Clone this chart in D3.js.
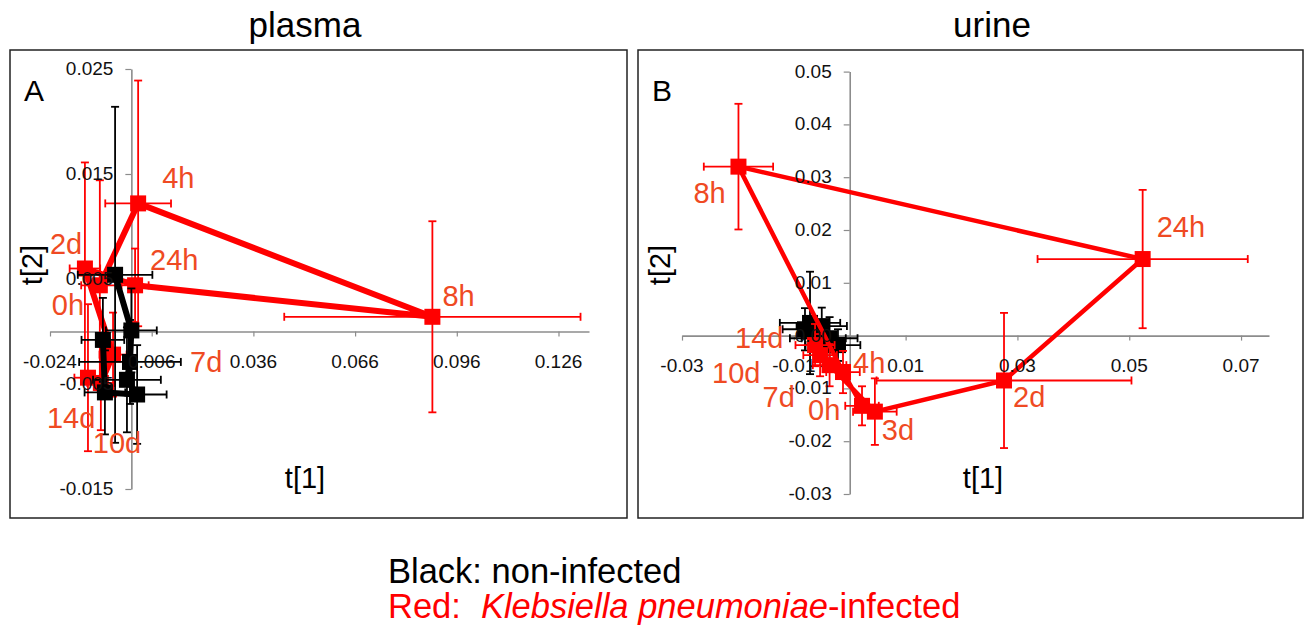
<!DOCTYPE html>
<html>
<head>
<meta charset="utf-8">
<style>
  body { margin: 0; background: #fff; }
  svg text { font-family: "Liberation Sans", Arial, sans-serif; }
</style>
</head>
<body>
<script src="https://d3js.org/d3.v7.min.js"></script>
<svg id="fig" width="1313" height="630"></svg>
<script>
// score means (t[1], t[2]) with SD, in trajectory order
const plasmaInfected = [
  {t: '0h',  x: -0.0093, y:  0.0044, ex: 0.0055, ey: 0.0100},
  {t: '4h',  x:  0.0020, y:  0.0122, ex: 0.0097, ey: 0.0117},
  {t: '8h',  x:  0.0888, y:  0.0014, ex: 0.0437, ey: 0.0091},
  {t: '24h', x:  0.0011, y:  0.0044, ex: 0.0040, ey: 0.0035},
  {t: '2d',  x: -0.0137, y:  0.0060, ex: 0.0045, ey: 0.0101},
  {t: '7d',  x: -0.0054, y: -0.0022, ex: 0.0040, ey: 0.0040},
  {t: '10d', x: -0.0090, y: -0.0049, ex: 0.0040, ey: 0.0045},
  {t: '14d', x: -0.0128, y: -0.0044, ex: 0.0040, ey: 0.0070},
];
const plasmaControl = [
  {x: -0.0048, y:  0.0054, ex: 0.0110, ey: 0.0160},
  {x:  0.0000, y:  0.0001, ex: 0.0075, ey: 0.0040},
  {x: -0.0004, y: -0.0029, ex: 0.0150, ey: 0.0040},
  {x: -0.0013, y: -0.0046, ex: 0.0100, ey: 0.0050},
  {x:  0.0017, y: -0.0060, ex: 0.0087, ey: 0.0047},
  {x: -0.0078, y: -0.0058, ex: 0.0060, ey: 0.0040},
  {x: -0.0084, y: -0.0008, ex: 0.0063, ey: 0.0040},
];
const urineInfected = [
  {t: '0h',  x:  0.0022, y: -0.0133, ex: 0.0030, ey: 0.0037},
  {t: '4h',  x: -0.0012, y: -0.0069, ex: 0.0030, ey: 0.0040},
  {t: '8h',  x: -0.0199, y:  0.0320, ex: 0.0062, ey: 0.0119},
  {t: '24h', x:  0.0524, y:  0.0145, ex: 0.0188, ey: 0.0131},
  {t: '2d',  x:  0.0276, y: -0.0085, ex: 0.0228, ey: 0.0128},
  {t: '3d',  x:  0.0045, y: -0.0144, ex: 0.0039, ey: 0.0063},
  {t: '7d',  x: -0.0036, y: -0.0056, ex: 0.0030, ey: 0.0040},
  {t: '10d', x: -0.0053, y: -0.0037, ex: 0.0030, ey: 0.0040},
  {t: '14d', x: -0.0062, y: -0.0018, ex: 0.0035, ey: 0.0040},
];
const urineControl = [
  {x: -0.0071, y:  0.0024, ex: 0.0054, ey: 0.0097},
  {x: -0.0080, y:  0.0012, ex: 0.0040, ey: 0.0040},
  {x: -0.0050, y:  0.0018, ex: 0.0045, ey: 0.0035},
  {x: -0.0036, y: -0.0005, ex: 0.0050, ey: 0.0040},
  {x: -0.0021, y: -0.0018, ex: 0.0040, ey: 0.0030},
  {x: -0.0057, y: -0.0005, ex: 0.0050, ey: 0.0030},
  {x: -0.0044, y: -0.0018, ex: 0.0035, ey: 0.0040},
];

const plasmaXTicks = [-0.024, 0.006, 0.036, 0.066, 0.096, 0.126];
const plasmaYTicks = [-0.015, -0.005, 0.005, 0.015, 0.025];
const urineXTicks = [-0.03, -0.01, 0.01, 0.03, 0.05, 0.07];
const urineYTicks = [-0.03, -0.02, -0.01, 0, 0.01, 0.02, 0.03, 0.04, 0.05];

const RED = '#ff0000';
const LABEL_RED = '#ef4a23';
const AXIS_GREY = '#8c8c8c';

const svg = d3.select('#fig');

// where each time label sits relative to its marker (px)
const plasmaLabelOff = {
  '0h': [-48, 30], '4h': [24, -15], '8h': [10, -11], '24h': [15, -15],
  '2d': [-35, -15], '7d': [77, 17], '10d': [-8, 70], '14d': [-41, 50]
};
const urineLabelOff = {
  '0h': [-54, 14], '4h': [10, 1], '8h': [-45, 36], '24h': [14, -22],
  '2d': [9, 27], '3d': [7, 28], '7d': [-67, 42], '10d': [-108, 28], '14d': [-80, 3]
};

function drawPanel(cfg) {
  const g = svg.append('g');

  g.append('rect')
   .attr('x', cfg.box[0]).attr('y', cfg.box[1])
   .attr('width', cfg.box[2]).attr('height', cfg.box[3])
   .attr('fill', 'none').attr('stroke', '#222').attr('stroke-width', 1.5);

  g.append('text').text(cfg.title)
   .attr('x', cfg.titleX).attr('y', 37)
   .attr('text-anchor', 'middle').attr('font-size', '35px');

  g.append('text').text(cfg.letter)
   .attr('x', cfg.box[0] + 14).attr('y', 101)
   .attr('font-size', '30px');

  const x = d3.scaleLinear().domain(cfg.xDomain).range(cfg.xRange);
  const y = d3.scaleLinear().domain(cfg.yDomain).range(cfg.yRange);

  const xAxis = d3.axisBottom(x).tickValues(cfg.xTicks)
                  .tickSize(5).tickSizeOuter(0).tickPadding(18)
                  .tickFormat(d => d.toFixed(cfg.dec));
  const yAxis = d3.axisLeft(y).tickValues(cfg.yTicks)
                  .tickSize(6).tickSizeOuter(0).tickPadding(12)
                  .tickFormat(d => d.toFixed(cfg.dec));

  const axes = g.append('g');
  const gx = axes.append('g').attr('transform', `translate(0, ${y(0)})`).call(xAxis);
  const gy = axes.append('g').attr('transform', `translate(${x(0)}, 0)`).call(yAxis);
  [gx, gy].forEach(a => {
    a.select('.domain').attr('stroke', AXIS_GREY).attr('stroke-width', 1.6);
    a.selectAll('.tick line').attr('stroke', AXIS_GREY).attr('stroke-width', 1.2);
    a.selectAll('.tick text').attr('font-size', '19px').attr('fill', '#111')
     .attr('font-family', '"Liberation Sans", Arial, sans-serif');
  });
  // tick labels go on top of the markers, like the original
  const tickLabels = [gx, gy].map(a => a.selectAll('.tick text').remove().nodes());

  const line = d3.line().x(d => x(d.x)).y(d => y(d.y));

  function series(data, color, lw) {
    const s = g.append('g');
    s.append('path').datum(data).attr('d', line)
     .attr('fill', 'none').attr('stroke', color)
     .attr('stroke-width', lw).attr('stroke-linejoin', 'round');
    const eb = s.append('g').attr('stroke', color).attr('stroke-width', 1.8);
    data.forEach(d => {
      const cx = x(d.x), cy = y(d.y);
      const x0 = x(d.x - d.ex), x1 = x(d.x + d.ex);
      const y0 = y(d.y - d.ey), y1 = y(d.y + d.ey);
      eb.append('line').attr('x1', x0).attr('x2', x1).attr('y1', cy).attr('y2', cy);
      eb.append('line').attr('x1', x0).attr('x2', x0).attr('y1', cy - 4).attr('y2', cy + 4);
      eb.append('line').attr('x1', x1).attr('x2', x1).attr('y1', cy - 4).attr('y2', cy + 4);
      eb.append('line').attr('x1', cx).attr('x2', cx).attr('y1', y0).attr('y2', y1);
      eb.append('line').attr('x1', cx - 4).attr('x2', cx + 4).attr('y1', y0).attr('y2', y0);
      eb.append('line').attr('x1', cx - 4).attr('x2', cx + 4).attr('y1', y1).attr('y2', y1);
    });
    s.selectAll('rect').data(data).enter().append('rect')
     .attr('x', d => x(d.x) - 8).attr('y', d => y(d.y) - 8)
     .attr('width', 16).attr('height', 16).attr('fill', color);
  }

  if (cfg.blackOnTop) {
    series(cfg.red, RED, cfg.lw);
    series(cfg.black, '#000', cfg.lw);
  } else {
    series(cfg.black, '#000', cfg.lw);
    series(cfg.red, RED, cfg.lw);
  }

  // put tick labels back above data
  const gxl = g.append('g').attr('transform', `translate(0, ${y(0)})`);
  tickLabels[0].forEach((n, i) => {
    gxl.append(() => n).attr('transform', `translate(${x(cfg.xTicks[i])}, 0)`)
       .attr('text-anchor', 'middle');
  });
  const gyl = g.append('g').attr('transform', `translate(${x(0)}, 0)`);
  tickLabels[1].forEach((n, i) => {
    gyl.append(() => n).attr('transform', `translate(0, ${y(cfg.yTicks[i])})`)
       .attr('text-anchor', 'end');
  });

  g.append('g').selectAll('text').data(cfg.red).enter().append('text')
   .text(d => d.t)
   .attr('x', d => x(d.x) + cfg.labelOff[d.t][0])
   .attr('y', d => y(d.y) + cfg.labelOff[d.t][1])
   .attr('font-size', '29px').attr('fill', LABEL_RED);

  g.append('text').text('t[1]')
   .attr('x', cfg.t1x).attr('y', 488)
   .attr('text-anchor', 'middle').attr('font-size', '29px');
  g.append('text').text('t[2]')
   .attr('transform', `translate(${cfg.t2x}, 265) rotate(-90)`)
   .attr('text-anchor', 'middle').attr('font-size', '29px');
}

drawPanel({
  box: [10, 50, 617, 468], title: 'plasma', titleX: 305, letter: 'A',
  xDomain: [-0.024, 0.135], xRange: [50, 589],
  yDomain: [-0.015, 0.025], yRange: [489, 69],
  xTicks: plasmaXTicks, yTicks: plasmaYTicks, dec: 3,
  red: plasmaInfected, black: plasmaControl, labelOff: plasmaLabelOff,
  lw: 6, blackOnTop: true, t1x: 305, t2x: 42
});

drawPanel({
  box: [638, 50, 665, 468], title: 'urine', titleX: 992, letter: 'B',
  xDomain: [-0.03, 0.075], xRange: [682, 1269],
  yDomain: [-0.03, 0.05], yRange: [494, 71.6],
  xTicks: urineXTicks, yTicks: urineYTicks, dec: 2,
  red: urineInfected, black: urineControl, labelOff: urineLabelOff,
  lw: 4.5, blackOnTop: false, t1x: 983, t2x: 670
});

// legend
const leg = svg.append('g').attr('font-size', '34.5px');
leg.append('text').attr('x', 388).attr('y', 583).attr('fill', '#000')
   .text('Black: non-infected');
const r = leg.append('text').attr('x', 388).attr('y', 618).attr('fill', RED);
r.append('tspan').text('Red:');
r.append('tspan').attr('dx', 20).attr('font-style', 'italic').text('Klebsiella pneumoniae');
r.append('tspan').text('-infected');
</script>
</body>
</html>
